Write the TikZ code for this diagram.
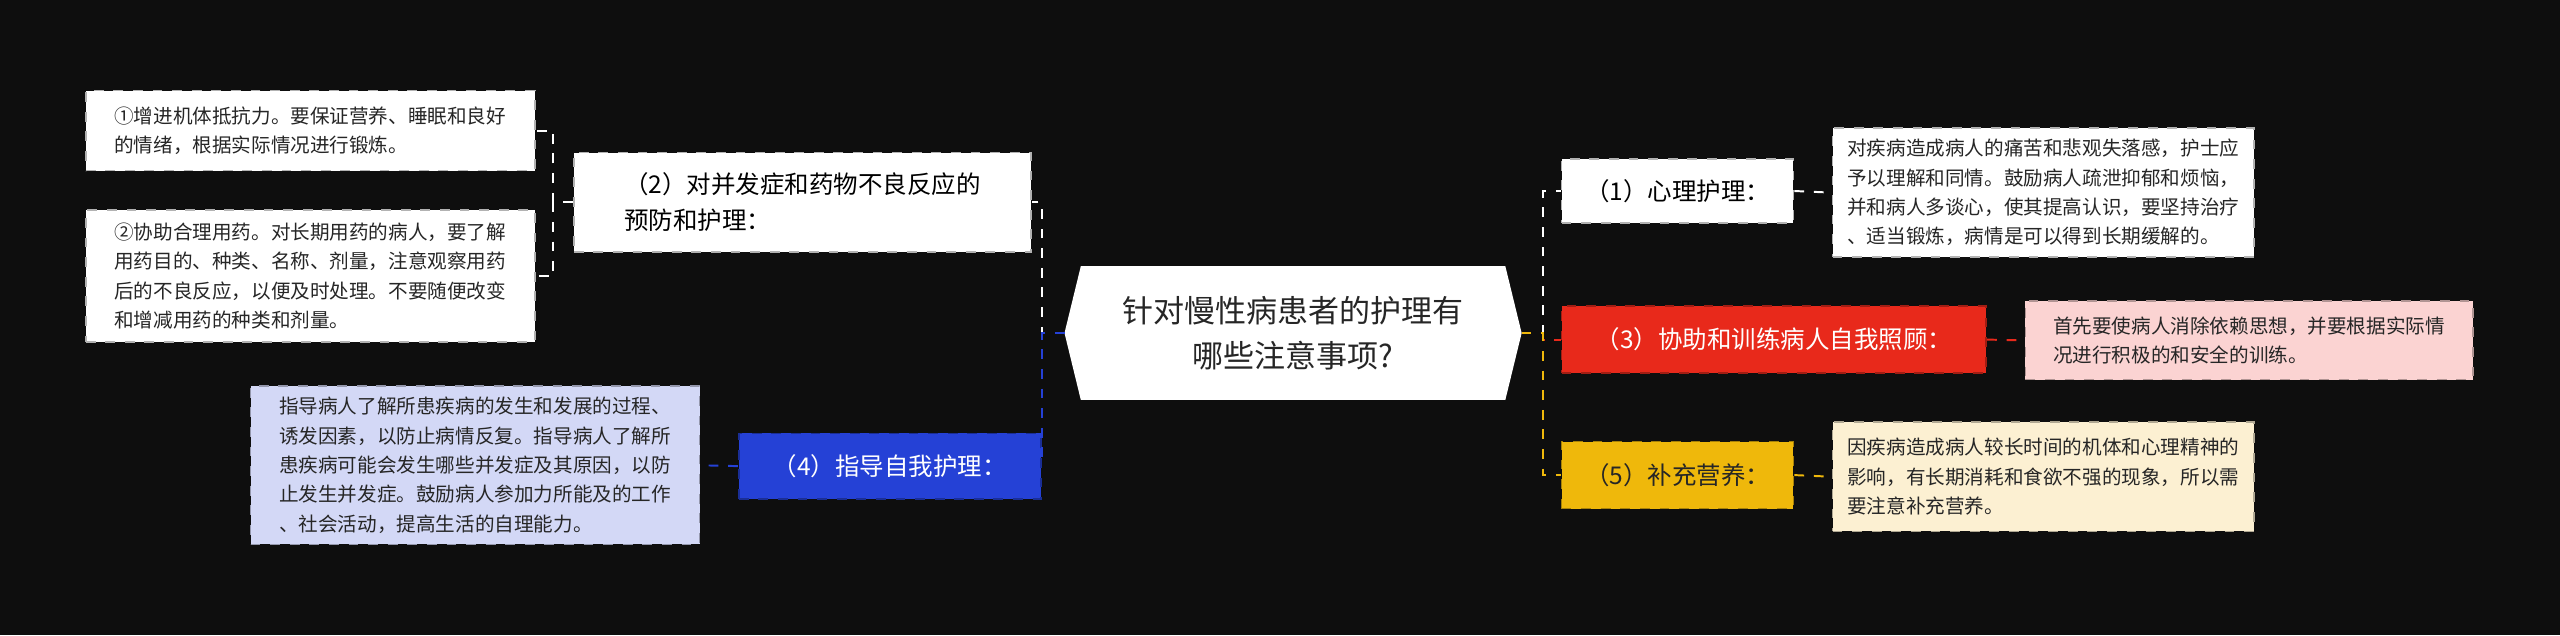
\documentclass[tikz,border=0pt]{standalone}
\usepackage{fontspec}
\setmainfont{Noto Sans CJK SC}
\usetikzlibrary{calc}
\definecolor{bg}{HTML}{0E0E0E}
\definecolor{blu}{HTML}{2541D6}
\definecolor{lav}{HTML}{D3D8F6}
\definecolor{rd}{HTML}{E8291B}
\definecolor{pk}{HTML}{FBD3D2}
\definecolor{ylw}{HTML}{EFB80B}
\definecolor{crm}{HTML}{FCF0D2}
\definecolor{ln}{HTML}{E0E0E0}
\begin{document}
\begin{tikzpicture}[x=0.5pt,y=-0.5pt,
  box/.style={draw=#1!70!black,dashed,line width=0.5pt,anchor=north west,inner xsep=4pt,align=left},
  leaf/.style={font=\fontsize{6}{9}\selectfont,text=black!85},
  mid/.style={font=\fontsize{7.5}{11}\selectfont},
  conn/.style={dashed,line width=0.6pt,draw=#1}]
\fill[bg] (0,0) rectangle (1568,389);
\useasboundingbox (0,0) rectangle (1568,389);
% center
\path[fill=white] (652,204) -- (662,163) -- (922,163) -- (932,204) -- (922,245) -- (662,245) -- cycle;
\node[font=\fontsize{9.5}{14}\selectfont,align=center,text=black!85] (c) at (792,204) {针对慢性病患者的护理有\\哪些注意事项?};
\coordinate (cl) at (652,204);
\coordinate (cr) at (932,204);
% left mid nodes
\node[box=white,fill=white,mid,minimum width=140pt,minimum height=30.5pt] (n2) at (351,93) {（2）对并发症和药物不良反应的\\预防和护理：};
\node[box=blu,fill=blu,mid,text=white,minimum width=92.5pt,minimum height=20pt,align=center] (n4) at (452,265) {（4）指导自我护理：};
% left leaves
\node[box=white,fill=white,leaf,minimum width=137.5pt,minimum height=24.5pt] (l1) at (52,55) {①增进机体抵抗力。要保证营养、睡眠和良好\\的情绪，根据实际情况进行锻炼。};
\node[box=white,fill=white,leaf,minimum width=137.5pt,minimum height=40.5pt] (l2) at (52,128) {②协助合理用药。对长期用药的病人，要了解\\用药目的、种类、名称、剂量，注意观察用药\\后的不良反应，以便及时处理。不要随便改变\\和增减用药的种类和剂量。};
\node[box=lav,fill=lav,leaf,minimum width=137.5pt,minimum height=48.5pt] (l4) at (153,236) {指导病人了解所患疾病的发生和发展的过程、\\诱发因素，以防止病情反复。指导病人了解所\\患疾病可能会发生哪些并发症及其原因，以防\\止发生并发症。鼓励病人参加力所能及的工作\\、社会活动，提高生活的自理能力。};
% right mid nodes
\node[box=white,fill=white,mid,minimum width=71pt,minimum height=19.5pt,align=center] (n1) at (956,97) {（1）心理护理：};
\node[box=rd,fill=rd,mid,text=white,minimum width=130pt,minimum height=20.5pt,align=center] (n3) at (956,187) {（3）协助和训练病人自我照顾：};
\node[box=ylw,fill=ylw,mid,text=black!85,minimum width=71pt,minimum height=20.5pt,align=center] (n5) at (956,270) {（5）补充营养：};
% right leaves
\node[box=white,fill=white,leaf,minimum width=129pt,minimum height=39.5pt] (r1) at (1122,78) {对疾病造成病人的痛苦和悲观失落感，护士应\\予以理解和同情。鼓励病人疏泄抑郁和烦恼，\\并和病人多谈心，使其提高认识，要坚持治疗\\、适当锻炼，病情是可以得到长期缓解的。};
\node[box=pk,fill=pk,leaf,minimum width=137pt,minimum height=24pt] (r3) at (1240,184) {首先要使病人消除依赖思想，并要根据实际情\\况进行积极的和安全的训练。};
\node[box=crm,fill=crm,leaf,minimum width=129pt,minimum height=33.5pt] (r5) at (1122,258) {因疾病造成病人较长时间的机体和心理精神的\\影响，有长期消耗和食欲不强的现象，所以需\\要注意补充营养。};
% connectors left
\draw[conn=white] (cl) -- (638,204) |- (n2.east);
\draw[conn=blu] (cl) -- (638,204) |- (n4.east);
\draw[conn=white] (n2.west) -- (339,124) |- (l1.east);
\draw[conn=white] (n2.west) -- (339,124) |- (l2.east);
\draw[conn=blu] (n4.west) -- (l4.east);
% connectors right
\draw[conn=white] (cr) -- (945,204) |- (n1.west);
\draw[conn=rd] (cr) -- (945,204) |- (n3.west);
\draw[conn=ylw] (cr) -- (945,204) |- (n5.west);
\draw[conn=white] (n1.east) -- (r1.west);
\draw[conn=rd] (n3.east) -- (r3.west);
\draw[conn=ylw] (n5.east) -- (r5.west);
\end{tikzpicture}
\end{document}
